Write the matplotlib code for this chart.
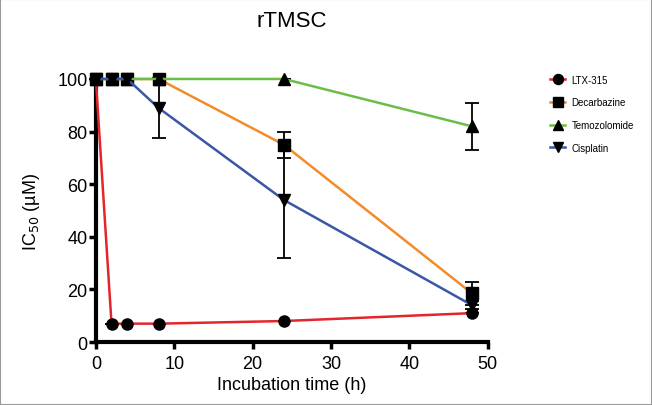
import matplotlib
matplotlib.use("Agg")
import matplotlib.pyplot as plt
from matplotlib.patches import Rectangle

plt.rcParams["font.family"] = ["Liberation Sans", "DejaVu Sans"]

# ── Data ──────────────────────────────────────────────────────────────────────
time_h = [0, 2, 4, 8, 24, 48]

ltx315      = [100, 7, 7, 7, 8, 11]
ltx315_err  = [0, 0, 0, 0, 0, 0]
decarb      = [100, 100, 100, 100, 75, 18.5]
decarb_err  = [0, 0, 0, 0, 5, 4.5]
temozol     = [100, 100, 100, 100, 100, 82]
temozol_err = [0, 0, 0, 0, 0, 9]
cisplat     = [100, 100, 100, 89, 54, 14]
cisplat_err = [0, 0, 0, 11.5, 22, 1.5]

series = [
    ("LTX-315",      ltx315,  ltx315_err,  "#e3262d", "o"),
    ("Decarbazine",  decarb,  decarb_err,  "#f28c28", "s"),
    ("Temozolomide", temozol, temozol_err, "#6cbd45", "^"),
    ("Cisplatin",    cisplat, cisplat_err, "#3a56a5", "v"),
]

# ── Figure ────────────────────────────────────────────────────────────────────
fig = plt.figure(figsize=(6.52, 4.06), dpi=100)
ax = fig.add_axes([0.147, 0.155, 0.601, 0.648])

handles = []
for name, vals, err, col, mk in series:
    ax.errorbar(time_h, vals, yerr=err, fmt="none", ecolor="black",
                elinewidth=1.3, capsize=5, capthick=1.3, clip_on=False, zorder=3)
    ln, = ax.plot(time_h, vals, color=col, lw=1.8, marker=mk, ms=8,
                  mfc="black", mec="black", clip_on=False, zorder=4, label=name)
    handles.append(ln)

ax.set_xlim(0, 50)
ax.set_ylim(0, 100)
ax.set_xticks([0, 10, 20, 30, 40, 50])
ax.set_yticks([0, 20, 40, 60, 80, 100])
ax.tick_params(direction="out", width=2.5, length=5, labelsize=13)
ax.tick_params(axis="x", pad=4)
ax.tick_params(axis="y", pad=1)

for sp in ["top", "right"]:
    ax.spines[sp].set_visible(False)
for sp in ["left", "bottom"]:
    ax.spines[sp].set_linewidth(3)

ax.set_xlabel("Incubation time (h)", fontsize=13, labelpad=3)
ax.set_ylabel("IC$_{50}$ (\u00b5M)", fontsize=13, labelpad=11)
ax.set_title("rTMSC", fontsize=16, pad=38)

fig.legend(handles=handles, loc="upper left", bbox_to_anchor=(0.83, 0.835),
           frameon=False, fontsize=7, handlelength=1.6, markerscale=0.9,
           labelspacing=1.3, handletextpad=0.6)

# thin grey border around the picture
fig.patches.append(Rectangle((0, 0), 1, 1, transform=fig.transFigure,
                             fill=False, edgecolor="#999999", lw=1.5))

fig.savefig("out.png", dpi=100)
